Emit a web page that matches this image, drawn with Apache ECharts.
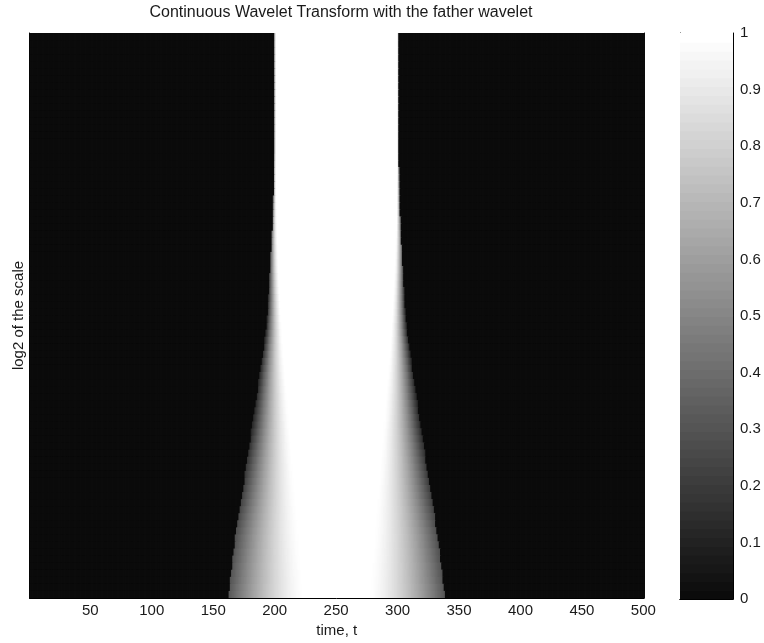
<!DOCTYPE html>
<html><head><meta charset="utf-8">
<script src="https://cdn.jsdelivr.net/npm/echarts@6/dist/echarts.min.js"></script>
<style>html,body{margin:0;padding:0;background:#fff}#c{width:764px;height:643px}</style>
</head><body><div id="c"></div>
<script>
// ---- text ----
const titleText = 'Continuous Wavelet Transform with the father wavelet';
const xName = 'time, t';
const yName = 'log2 of the scale';

// ---- axes ----
const nTime = 500;                       // time samples 1..500
const timeTicks = [50, 100, 150, 200, 250, 300, 350, 400, 450, 500];
const colorbarTicks = [0, 0.1, 0.2, 0.3, 0.4, 0.5, 0.6, 0.7, 0.8, 0.9, 1];
const colorLevels = 64;                  // gray colormap levels

// ---- values (one entry per scale row, top to bottom) ----
const centerTime = 250.25;               // symmetry centre of the white band
// half-width (time units) where the transform falls to 0
const rowOuterHalfWidth = [
  50.5, 50.5, 50.5, 50.5, 50.5, 50.5, 50.5, 50.5, 50.5, 50.5,
  50.5, 50.5, 50.5, 50.5, 50.5, 50.5, 50.5, 50.6, 50.7, 50.8,
  50.9, 51.0, 51.2, 51.3, 51.5, 51.7, 52.0, 52.2, 52.5, 52.7,
  53.0, 53.3, 53.6, 54.0, 54.3, 54.6, 55.0, 55.3, 55.7, 56.1,
  56.6, 57.0, 57.6, 58.4, 59.2, 60.0, 60.9, 61.7, 62.6, 63.4,
  64.2, 65.0, 65.9, 66.7, 67.6, 68.4, 69.3, 70.1, 71.0, 71.8,
  72.7, 73.5, 74.4, 75.2, 76.1, 76.9, 77.9, 78.9, 79.8, 80.7,
  81.6, 82.4, 83.1, 83.8, 84.5, 85.1, 85.8, 86.5, 87.2, 87.9];
// half-width of the fully white plateau (value 1)
const rowInnerHalfWidth = [
  49.5, 49.5, 49.5, 49.5, 49.5, 49.5, 49.5, 49.5, 49.5, 49.5,
  49.5, 49.5, 49.5, 49.5, 49.5, 49.5, 49.5, 49.5, 49.5, 49.5,
  49.4, 49.3, 49.2, 49.1, 49.0, 48.9, 48.8, 48.6, 48.4, 48.2,
  48.0, 47.8, 47.6, 47.4, 47.1, 46.8, 46.5, 46.2, 45.9, 45.6,
  45.2, 44.8, 44.4, 44.0, 43.6, 43.2, 42.7, 42.2, 41.7, 41.2,
  40.7, 40.2, 39.7, 39.2, 38.7, 38.2, 37.7, 37.2, 36.7, 36.2,
  35.7, 35.2, 34.7, 34.2, 33.7, 33.2, 32.7, 32.2, 31.7, 31.2,
  30.7, 30.2, 29.7, 29.2, 28.7, 28.2, 27.7, 27.2, 26.7, 26.2];
// gray value just inside the outer edge
const rowEdgeValue = [
  0.45, 0.45, 0.45, 0.45, 0.45, 0.45, 0.45, 0.45, 0.45, 0.45,
  0.45, 0.45, 0.45, 0.45, 0.45, 0.45, 0.45, 0.45, 0.45, 0.45,
  0.45, 0.45, 0.45, 0.45, 0.45, 0.45, 0.45, 0.45, 0.45, 0.45,
  0.42, 0.38, 0.34, 0.30, 0.26, 0.22, 0.19, 0.16, 0.14, 0.12,
  0.12, 0.12, 0.12, 0.12, 0.12, 0.12, 0.12, 0.12, 0.12, 0.12,
  0.12, 0.12, 0.12, 0.12, 0.12, 0.12, 0.13, 0.14, 0.15, 0.16,
  0.17, 0.18, 0.19, 0.20, 0.21, 0.22, 0.23, 0.24, 0.25, 0.26,
  0.27, 0.28, 0.28, 0.29, 0.29, 0.30, 0.30, 0.30, 0.31, 0.31];

// ---- build the tables the library needs ----
const times = [];
for (let t = 1; t <= nTime; t++) times.push(String(t));
const rows = rowOuterHalfWidth.map((_, i) => String(i + 1));
const cells = [];
rows.forEach((_, r) => {
  const dOut = rowOuterHalfWidth[r], dIn = rowInnerHalfWidth[r], e = rowEdgeValue[r];
  for (let t = 1; t <= nTime; t++) {
    const d = Math.abs(t - centerTime);
    let v;
    if (d > dOut) v = 0;
    else if (d <= dIn) v = 1;
    else {
      const s = (dOut - d) / (dOut - dIn);
      v = e + (1 - e) * (1 - Math.pow(1 - s, 1.5));
    }
    cells.push([t - 1, r, v]);
  }
});
const levels = [];
const levelCells = [];
for (let i = 0; i < colorLevels; i++) {
  levels.push(String(i));
  levelCells.push([0, i, i / (colorLevels - 1)]);
}

const FONT = 'Liberation Sans, Arial, Helvetica, sans-serif';
const INK = '#1a1a1a';
const tickSet = new Set(timeTicks.map(String));
const isTick = (idx, val) => tickSet.has(String(val));

function renderCell(params, api) {
  const c = api.coord([api.value(0), api.value(1)]);
  const sz = api.size([1, 1]);
  return {
    type: 'rect',
    shape: { x: c[0] - sz[0] / 2, y: c[1] - sz[1] / 2, width: sz[0] + 1, height: sz[1] + 1 },
    style: { fill: api.visual('color') },
    silent: true
  };
}

const chart = echarts.init(document.getElementById('c'), null, { renderer: 'canvas' });
chart.setOption({
  animation: false,
  backgroundColor: '#ffffff',
  textStyle: { fontFamily: FONT },
  title: {
    text: titleText, left: 336, top: 0, textAlign: 'center',
    textStyle: { fontSize: 16, fontWeight: 'normal', color: INK, fontFamily: FONT }
  },
  grid: [
    { left: 29.5, top: 33, width: 614.5, height: 566, containLabel: false },
    { left: 680, top: 33, width: 53, height: 566, containLabel: false }
  ],
  visualMap: {
    type: 'continuous', show: false, min: 0, max: 1, dimension: 2, seriesIndex: [0, 1],
    inRange: { color: ['#0b0b0b', '#ffffff'] }
  },
  xAxis: [
    {
      type: 'category', gridIndex: 0, position: 'bottom', data: times, boundaryGap: true,
      axisLine: { show: true, lineStyle: { color: '#000', width: 1 } },
      axisTick: { show: true, inside: true, length: 5, interval: isTick, alignWithLabel: true, lineStyle: { color: '#000' } },
      axisLabel: { show: true, interval: isTick, margin: 5, fontSize: 15, color: INK, fontFamily: FONT },
      splitLine: { show: false },
      name: xName, nameLocation: 'middle', nameGap: 25,
      nameTextStyle: { fontSize: 15, color: INK, fontFamily: FONT }
    },
    {
      type: 'category', gridIndex: 0, position: 'top', data: times, boundaryGap: true,
      axisLine: { show: true, lineStyle: { color: '#000', width: 1 } },
      axisTick: { show: true, inside: true, length: 5, interval: isTick, alignWithLabel: true, lineStyle: { color: '#000' } },
      axisLabel: { show: false }, splitLine: { show: false }
    },
    {
      type: 'category', gridIndex: 1, position: 'bottom', data: ['c'],
      axisLine: { show: true, lineStyle: { color: '#000', width: 1 } },
      axisTick: { show: false }, axisLabel: { show: false }, splitLine: { show: false }
    },
    {
      type: 'category', gridIndex: 1, position: 'top', data: ['c'],
      axisLine: { show: true, lineStyle: { color: '#000', width: 1 } },
      axisTick: { show: false }, axisLabel: { show: false }, splitLine: { show: false }
    }
  ],
  yAxis: [
    {
      type: 'category', gridIndex: 0, position: 'left', data: rows, inverse: true,
      axisLine: { show: true, lineStyle: { color: '#000', width: 1 } },
      axisTick: { show: false }, axisLabel: { show: false }, splitLine: { show: false },
      name: yName, nameLocation: 'middle', nameGap: 3,
      nameTextStyle: { fontSize: 15, color: INK, fontFamily: FONT }
    },
    {
      type: 'category', gridIndex: 0, position: 'right', data: rows, inverse: true,
      axisLine: { show: true, lineStyle: { color: '#000', width: 1 } },
      axisTick: { show: false }, axisLabel: { show: false }, splitLine: { show: false }
    },
    {
      type: 'category', gridIndex: 1, position: 'left', data: levels,
      axisLine: { show: true, lineStyle: { color: '#000', width: 1 } },
      axisTick: { show: false }, axisLabel: { show: false }, splitLine: { show: false }
    },
    {
      type: 'value', gridIndex: 1, position: 'right', min: 0, max: 1, interval: 0.1,
      axisLine: { show: true, lineStyle: { color: '#000', width: 1 } },
      axisTick: { show: true, inside: true, length: 4, lineStyle: { color: '#000' } },
      axisLabel: { show: true, margin: 7, fontSize: 15, color: INK, fontFamily: FONT,
        formatter: v => String(+v.toFixed(1)) },
      splitLine: { show: false }
    },
    {
      type: 'value', gridIndex: 1, position: 'left', min: 0, max: 1, interval: 0.1,
      axisLine: { show: false },
      axisTick: { show: true, inside: true, length: 4, lineStyle: { color: '#000' } },
      axisLabel: { show: false }, splitLine: { show: false }
    }
  ],
  series: [
    {
      type: 'custom', xAxisIndex: 0, yAxisIndex: 0, data: cells,
      encode: { x: 0, y: 1 }, renderItem: renderCell, progressive: 0, clip: true
    },
    {
      type: 'custom', xAxisIndex: 2, yAxisIndex: 2, data: levelCells,
      encode: { x: 0, y: 1 }, renderItem: renderCell, progressive: 0, clip: true
    }
  ]
});
</script>
</body></html>
